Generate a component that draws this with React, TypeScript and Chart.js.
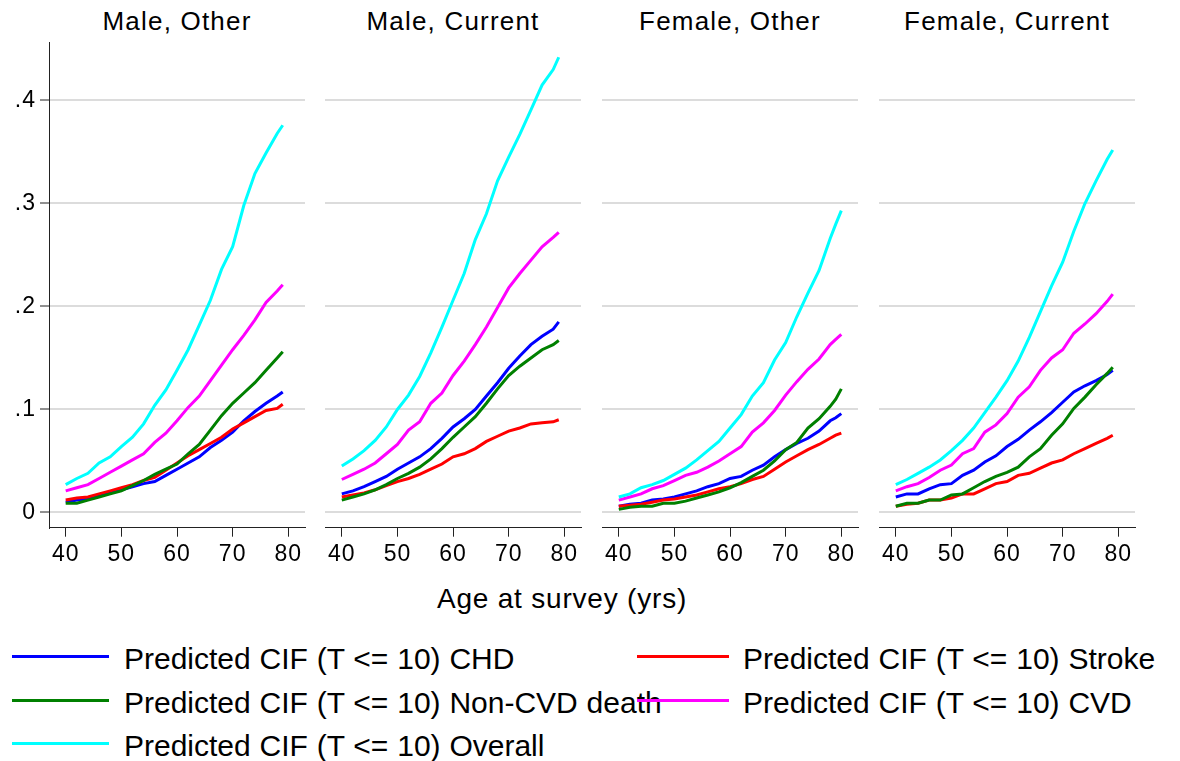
import React, { useEffect, useRef } from 'react';
import { Chart, registerables } from 'chart.js';

Chart.register(...registerables);

// ---------- data ----------
const panelTitles = ['Male, Other', 'Male, Current', 'Female, Other', 'Female, Current'];
const xTicks = [40, 50, 60, 70, 80];
const yTicks = [0, 0.1, 0.2, 0.3, 0.4];
const xAxisTitle = 'Age at survey (yrs)';

const agesStd = [40, 42, 44, 46, 48, 50, 52, 54, 56, 58, 60, 62, 64, 66, 68, 70, 72, 74, 76, 78, 79];
const agesFemaleOther = [40, 42, 44, 46, 48, 50, 52, 54, 56, 58, 60, 62, 64, 66, 68, 70, 72, 74, 76, 78, 79, 80];

// Male, Other
const chdMO = [.010, .012, .013, .016, .019, .022, .025, .028, .030, .036, .042, .048, .054, .063, .070, .078, .089, .098, .106, .113, .117];
const strokeMO = [.012, .014, .015, .018, .021, .024, .027, .031, .034, .041, .048, .055, .061, .067, .073, .081, .087, .093, .099, .101, .105];
const noncvdMO = [.009, .009, .012, .015, .018, .021, .026, .031, .037, .042, .047, .057, .066, .080, .094, .106, .116, .126, .138, .150, .156];
const cvdMO = [.021, .024, .027, .033, .039, .045, .051, .057, .068, .077, .089, .102, .113, .128, .143, .158, .172, .187, .204, .215, .221];
const overallMO = [.027, .033, .038, .048, .054, .064, .073, .086, .104, .119, .138, .158, .182, .206, .236, .258, .298, .329, .349, .368, .376];

// Male, Current
const chdMC = [.018, .021, .025, .030, .035, .042, .048, .054, .062, .072, .083, .091, .100, .113, .126, .140, .152, .163, .171, .178, .185];
const strokeMC = [.015, .017, .019, .022, .026, .030, .033, .037, .042, .047, .054, .057, .062, .069, .074, .079, .082, .086, .087, .088, .090];
const noncvdMC = [.012, .015, .018, .022, .027, .033, .038, .044, .052, .062, .073, .083, .093, .106, .120, .133, .142, .150, .158, .163, .167];
const cvdMC = [.032, .037, .042, .048, .057, .066, .080, .088, .106, .116, .133, .147, .163, .180, .199, .218, .232, .245, .258, .267, .272];
const overallMC = [.045, .052, .060, .070, .083, .100, .114, .132, .155, .180, .206, .232, .265, .290, .322, .345, .367, .391, .415, .430, .442];

// Female, Other
const chdFO = [.006, .008, .009, .012, .013, .015, .018, .021, .025, .028, .033, .035, .041, .046, .054, .061, .067, .072, .079, .089, .092, .096];
const strokeFO = [.006, .007, .008, .010, .012, .013, .015, .017, .020, .023, .025, .028, .032, .035, .042, .049, .055, .061, .066, .072, .075, .077];
const noncvdFO = [.003, .005, .006, .006, .009, .009, .011, .014, .017, .020, .024, .029, .035, .041, .050, .061, .068, .082, .091, .103, .110, .120];
const cvdFO = [.012, .015, .018, .023, .026, .031, .036, .039, .044, .050, .057, .064, .078, .087, .099, .114, .127, .139, .149, .163, .168, .173];
const overallFO = [.015, .018, .024, .027, .031, .037, .043, .051, .060, .069, .082, .095, .113, .126, .148, .165, .190, .213, .235, .266, .280, .293];

// Female, Current
const chdFC = [.015, .018, .018, .023, .027, .028, .036, .041, .049, .055, .064, .071, .080, .088, .097, .107, .117, .123, .128, .134, .138];
const strokeFC = [.006, .008, .009, .012, .012, .014, .018, .018, .023, .028, .030, .036, .038, .043, .048, .051, .057, .062, .067, .072, .075];
const noncvdFC = [.006, .009, .009, .012, .012, .017, .018, .024, .030, .035, .039, .044, .054, .062, .075, .086, .101, .112, .124, .135, .141];
const cvdFC = [.021, .025, .028, .034, .041, .046, .057, .062, .078, .085, .096, .112, .122, .138, .150, .158, .174, .183, .193, .205, .212];
const overallFC = [.027, .032, .038, .044, .051, .060, .070, .082, .097, .112, .128, .147, .170, .195, .220, .243, .273, .300, .322, .343, .352];

const seriesLabels = [
  'Predicted CIF (T <= 10) CHD',
  'Predicted CIF (T <= 10) Stroke',
  'Predicted CIF (T <= 10) Non-CVD death',
  'Predicted CIF (T <= 10) CVD',
  'Predicted CIF (T <= 10) Overall',
];
const seriesColors = ['#0000ff', '#ff0000', '#008000', '#ff00ff', '#00ffff'];

const panelAges = [agesStd, agesStd, agesFemaleOther, agesStd];
const panelSeries = [
  [chdMO, strokeMO, noncvdMO, cvdMO, overallMO],
  [chdMC, strokeMC, noncvdMC, cvdMC, overallMC],
  [chdFO, strokeFO, noncvdFO, cvdFO, overallFO],
  [chdFC, strokeFC, noncvdFC, cvdFC, overallFC],
];

// ---------- layout ----------
const FONT = '"Liberation Sans", Arial, sans-serif';
const PANEL_LEFTS = [49, 325, 602, 879];
const PANEL_W = 256;
const CANVAS_H = 580;
const AREA_TOP = 42;
const AREA_BOTTOM = 527.7;
const Y_MIN = -0.0148;
const Y_MAX = 0.4568;
const X_MIN = 37;
const X_MAX = 83;
const TICK_FONT_SIZE = 23;

function fmtY(v: number) {
  if (Math.abs(v) < 1e-9) return '0';
  return v.toFixed(1).replace(/^0/, '');
}

const letterSpacingPlugin = {
  id: 'tickLetterSpacing',
  beforeDraw(chart: any) {
    try {
      chart.ctx.letterSpacing = '1px';
    } catch (e) {
      /* ignore */
    }
  },
};

function Panel({ idx }: { idx: number }) {
  const ref = useRef<HTMLCanvasElement | null>(null);
  const first = idx === 0;
  const canvasLeft = first ? 0 : PANEL_LEFTS[idx];
  const canvasW = first ? PANEL_LEFTS[0] + PANEL_W + 1 : PANEL_W + 1;

  useEffect(() => {
    if (!ref.current) return;
    const ages = panelAges[idx];
    const series = panelSeries[idx];
    // draw order: later series on top (Chart.js draws dataset 0 last)
    const orderIdx = [4, 3, 2, 1, 0];
    const chart = new Chart(ref.current, {
      type: 'line',
      plugins: [letterSpacingPlugin],
      data: {
        datasets: orderIdx.map((k) => ({
          label: seriesLabels[k],
          data: ages.map((a, j) => ({ x: a, y: series[k][j] })),
          borderColor: seriesColors[k],
          backgroundColor: seriesColors[k],
          borderWidth: 3,
          pointRadius: 0,
          tension: 0,
          fill: false,
        })),
      },
      options: {
        animation: false,
        responsive: false,
        maintainAspectRatio: false,
        layout: { padding: { top: AREA_TOP, left: 0, right: 1, bottom: 0 } },
        plugins: { legend: { display: false }, tooltip: { enabled: false }, title: { display: false } },
        scales: {
          x: {
            type: 'linear',
            min: X_MIN,
            max: X_MAX,
            afterBuildTicks: (s: any) => {
              s.ticks = xTicks.map((v) => ({ value: v }));
            },
            afterFit: (s: any) => {
              s.height = CANVAS_H - AREA_BOTTOM;
            },
            grid: { drawOnChartArea: false, tickLength: 9, tickColor: '#222', tickWidth: 1 },
            border: { display: true, color: '#222', width: 1 },
            ticks: {
              autoSkip: false,
              maxRotation: 0,
              padding: 4,
              color: '#000',
              font: { family: FONT, size: TICK_FONT_SIZE },
              callback: (v: any) => String(v),
            },
          },
          y: {
            type: 'linear',
            min: Y_MIN,
            max: Y_MAX,
            afterBuildTicks: (s: any) => {
              s.ticks = yTicks.map((v) => ({ value: v }));
            },
            afterFit: (s: any) => {
              s.width = first ? PANEL_LEFTS[0] : 0;
            },
            grid: {
              color: '#dcdcdc',
              lineWidth: 2,
              drawTicks: first,
              tickLength: 9,
              tickColor: '#222',
              tickWidth: 1,
            },
            border: { display: first, color: '#222', width: 1 },
            ticks: {
              display: first,
              padding: 4,
              color: '#000',
              font: { family: FONT, size: TICK_FONT_SIZE },
              callback: (v: any) => fmtY(Number(v)),
            },
          },
        },
      },
    } as any);
    return () => chart.destroy();
  }, [idx]);

  return (
    <canvas
      ref={ref}
      width={canvasW}
      height={CANVAS_H}
      style={{ position: 'absolute', left: canvasLeft, top: 0, width: canvasW, height: CANVAS_H }}
    />
  );
}

const legendCols = [
  { lineL: 12, lineR: 109, textL: 124 },
  { lineL: 637, lineR: 729, textL: 743 },
];
const legendRowsY = [656.7, 700, 743.3];
// legend order: row-major, two columns
const legendOrder = [0, 1, 2, 3, 4];

export default function App() {
  return (
    <div
      style={{
        position: 'absolute',
        left: 0,
        top: 0,
        width: 1180,
        height: 761,
        background: '#fff',
        overflow: 'hidden',
        fontFamily: FONT,
      }}
    >
      {panelTitles.map((t, i) => (
        <div
          key={t}
          style={{
            position: 'absolute',
            left: PANEL_LEFTS[i],
            width: PANEL_W,
            top: 8,
            textAlign: 'center',
            fontSize: 26,
            lineHeight: '26px',
            letterSpacing: 1.2,
            color: '#000',
            whiteSpace: 'nowrap',
          }}
        >
          {t}
        </div>
      ))}
      {[0, 1, 2, 3].map((i) => (
        <Panel key={i} idx={i} />
      ))}
      <div
        style={{
          position: 'absolute',
          left: 362,
          width: 400,
          top: 584.6,
          textAlign: 'center',
          fontSize: 28,
          lineHeight: '28px',
          letterSpacing: 0.8,
          color: '#000',
          whiteSpace: 'nowrap',
        }}
      >
        {xAxisTitle}
      </div>
      {legendOrder.map((k, n) => {
        const col = legendCols[n % 2];
        const y = legendRowsY[Math.floor(n / 2)];
        return (
          <React.Fragment key={k}>
            <div
              style={{
                position: 'absolute',
                left: col.lineL,
                width: col.lineR - col.lineL,
                top: y - 1.5,
                height: 3,
                background: seriesColors[k],
              }}
            />
            <div
              style={{
                position: 'absolute',
                left: col.textL,
                top: y - 19.5,
                fontSize: 30,
                lineHeight: '43px',
                height: 43,
                color: '#000',
                whiteSpace: 'nowrap',
                wordSpacing: 0.5,
              }}
            >
              {seriesLabels[k]}
            </div>
          </React.Fragment>
        );
      })}
    </div>
  );
}
